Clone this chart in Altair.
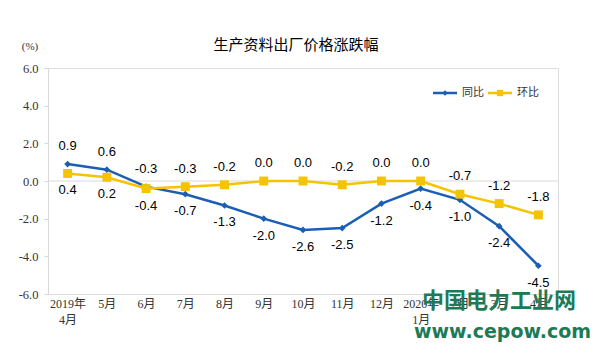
import altair as alt
import pandas as pd

months = ["2019年4月", "5月", "6月", "7月", "8月", "9月", "10月", "11月", "12月",
          "2020年1月", "2月", "3月", "4月"]
yoy = [0.9, 0.6, -0.3, -0.7, -1.3, -2.0, -2.6, -2.5, -1.2, -0.4, -1.0, -2.4, -4.5]
mom = [0.4, 0.2, -0.4, -0.3, -0.2, 0.0, 0.0, -0.2, 0.0, 0.0, -0.7, -1.2, -1.8]
series_names = ["同比", "环比"]
y_ticks = [-6, -4, -2, 0, 2, 4, 6]

BLUE = "#1a5fb4"
YELLOW = "#f5c400"
SANS = "Liberation Sans"
SERIF = "Liberation Serif, Noto Sans CJK SC"
CJK = "Noto Sans CJK SC"

rows = []
for i, m in enumerate(months):
    rows.append({"month": m, "order": i, "series": series_names[0], "value": yoy[i],
                 "above": yoy[i] >= mom[i]})
    rows.append({"month": m, "order": i, "series": series_names[1], "value": mom[i],
                 "above": mom[i] > yoy[i]})
df = pd.DataFrame(rows)

x_enc = alt.X("month:N", sort=months, title=None,
              scale=alt.Scale(type="point", padding=0.5),
              axis=alt.Axis(labelExpr="indexof(datum.value,'年')>0 ? [slice(datum.value,0,5), slice(datum.value,5)] : datum.value",
                            labelAngle=0, labelFont=SERIF, labelFontSize=12,
                            labelColor="#333333", ticks=False, domain=False,
                            labelPadding=4, labelLineHeight=16, labelBaseline="top",
                            labelOverlap=False))
y_enc = alt.Y("value:Q", title=None,
              scale=alt.Scale(domain=[-6, 6], nice=False),
              axis=alt.Axis(values=y_ticks, format=".1f", grid=False,
                            labelExpr="replace(datum.label, '\u2212', '-')",
                            labelOverlap=False,
                            labelFont=SERIF, labelFontSize=12.5, labelColor="#333333",
                            tickColor="#d9d9d9", tickSize=4, labelPadding=6,
                            domainColor="#d9d9d9"))
color_enc = alt.Color("series:N", scale=alt.Scale(domain=series_names, range=[BLUE, YELLOW]),
                      legend=None)

base = alt.Chart(df).transform_calculate(
    lbl="replace(format(datum.value, '.1f'), '\u2212', '-')")

zero = alt.Chart(pd.DataFrame({"value": [0]})).mark_rule(
    color="#d9d9d9", strokeWidth=1).encode(y=y_enc)
lines = base.mark_line(strokeWidth=2.5).encode(x=x_enc, y=y_enc, color=color_enc,
                                               order="order:Q")
pts_blue = base.transform_filter(alt.datum.series == series_names[0]).mark_point(
    shape="diamond", filled=True, size=45, color=BLUE, opacity=1).encode(x=x_enc, y=y_enc)
pts_yellow = base.transform_filter(alt.datum.series == series_names[1]).mark_point(
    shape="square", filled=True, size=80, color=YELLOW, opacity=1).encode(x=x_enc, y=y_enc)

lab_above = base.transform_filter(alt.datum.above).mark_text(
    font=SANS, fontSize=13, color="#000000", dy=-18, baseline="middle").encode(
    x=x_enc, y=y_enc, text="lbl:N")
lab_below = base.transform_filter(~alt.datum.above).mark_text(
    font=SANS, fontSize=13, color="#000000", dy=17, baseline="middle").encode(
    x=x_enc, y=y_enc, text="lbl:N")

one = alt.Data(values=[{}])
unit = alt.Chart(one).mark_text(font=SERIF, fontSize=11, color="#333333").encode(
    x=alt.value(-18), y=alt.value(-21), text=alt.value("(%)"))
title = alt.Chart(one).mark_text(font=CJK, fontSize=15, color="#000000",
                                 baseline="middle").encode(
    x=alt.value(248), y=alt.value(-23), text=alt.value("生产资料出厂价格涨跌幅"))

# legend
leg = []
for name, col, shp, sz, x0 in [(series_names[0], BLUE, "diamond", 30, 385),
                               (series_names[1], YELLOW, "square", 40, 440)]:
    leg.append(alt.Chart(one).mark_rule(color=col, strokeWidth=2.5).encode(
        x=alt.value(x0), x2=alt.value(x0 + 24), y=alt.value(25)))
    leg.append(alt.Chart(one).mark_point(shape=shp, filled=True, size=sz, color=col,
                                         opacity=1).encode(
        x=alt.value(x0 + 12), y=alt.value(25)))
    leg.append(alt.Chart(one).mark_text(font=CJK, fontSize=11, color="#333333",
                                        align="left", baseline="middle").encode(
        x=alt.value(x0 + 29), y=alt.value(25), text=alt.value(name)))

wm1 = alt.Chart(one).mark_text(font=CJK, fontSize=22, fontWeight="bold", color="#1e7a55",
                               align="left", baseline="middle").encode(
    x=alt.value(374), y=alt.value(233), text=alt.value("中国电力工业网"))
wm2 = alt.Chart(one).mark_text(font="DejaVu Sans", fontSize=19, fontWeight="bold",
                               color="#1e7a55", align="left", baseline="middle").encode(
    x=alt.value(366), y=alt.value(264), text=alt.value("www.cepow.com"))

chart = alt.layer(zero, lines, pts_blue, pts_yellow, lab_above, lab_below, unit, title,
                  *leg, wm1, wm2).properties(
    width=510, height=226,
    autosize=alt.AutoSizeParams(type="none"),
    padding={"left": 40, "top": 60, "right": 34, "bottom": 57},
).configure_view(stroke="#d9d9d9", strokeWidth=1).configure(background="white")

chart.save("out.html", embed_options={"renderer": "svg", "actions": False})
